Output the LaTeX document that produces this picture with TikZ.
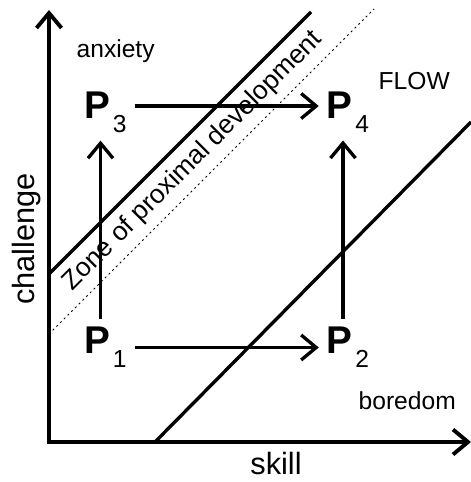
\documentclass[tikz,border=0pt]{standalone}
\usepackage{fontspec}
\setmainfont{Liberation Sans}
\usetikzlibrary{arrows.meta}
\tikzset{every picture/.style={line width=1.9pt}}
\tikzset{
  barb/.style={-{Straight Barb[length=3mm,width=5mm]}},
  pstate/.style={inner sep=0.13cm, font=\fontsize{22}{22}\selectfont},
  regionlbl/.style={inner sep=0pt, font=\fontsize{14}{14}\selectfont},
  axislbl/.style={inner sep=0pt, font=\fontsize{17.5}{17.5}\selectfont},
  zonelbl/.style={inner sep=0pt, font=\fontsize{15}{15}\selectfont},
  zoneedge/.style={line width=0.6pt, dash pattern=on 1.1pt off 1.9pt},
}
\newcommand{\pst}[1]{{\bfseries P}\hspace{1.5pt}\raisebox{-8pt}{\fontsize{14}{14}\selectfont #1}}

\begin{document}
\begin{tikzpicture}
    \useasboundingbox (-0.98,-0.8) rectangle (8.44,8.84);
    % axes
    \coordinate (o) at (0,0);
    \coordinate (xend) at (8.44,0);
    \coordinate (yend) at (0,8.64);
    \draw[line width=2.2pt, {Straight Barb[length=3mm,width=5mm]}-{Straight Barb[length=3mm,width=5mm]}] (yend) -- (o) -- (xend);
    \node[axislbl, anchor=base] (skill) at (4.54,-0.66) {skill};
    \node[axislbl, anchor=base, rotate=90] (challenge) at (-0.28,4.06) {challenge};
    % channel
    \draw (0,3.36) -- (5.24,8.6);
    \draw[zoneedge] (0,2.16) -- (6.5,8.66);
    \draw (2.12,0) -- (8.44,6.4);
    \node[zonelbl, rotate=45] (zone) at (2.88,5.62) {Zone of proximal development};
    % regions
    \node[regionlbl, anchor=base west] (anxiety) at (0.52,7.68) {anxiety};
    \node[regionlbl, anchor=base west] (flow) at (6.56,7.04) {FLOW};
    \node[regionlbl, anchor=base west] (boredom) at (6.16,0.64) {boredom};
    % states
    \node[pstate] (p1) at (1.13,1.89) {\pst{1}};
    \node[pstate] (p2) at (5.98,1.89) {\pst{2}};
    \node[pstate] (p3) at (1.13,6.6) {\pst{3}};
    \node[pstate] (p4) at (5.98,6.6) {\pst{4}};
    \draw[barb] (p1) -- (p2);
    \draw[barb] ([yshift=0.12cm]p3.east) -- ([yshift=0.12cm]p4.west);
    \draw[barb] ([xshift=-0.1cm]p1.north) -- ([xshift=-0.1cm]p3.south);
    \draw[barb] ([xshift=-0.1cm]p2.north) -- ([xshift=-0.1cm]p4.south);
\end{tikzpicture}
\end{document}
